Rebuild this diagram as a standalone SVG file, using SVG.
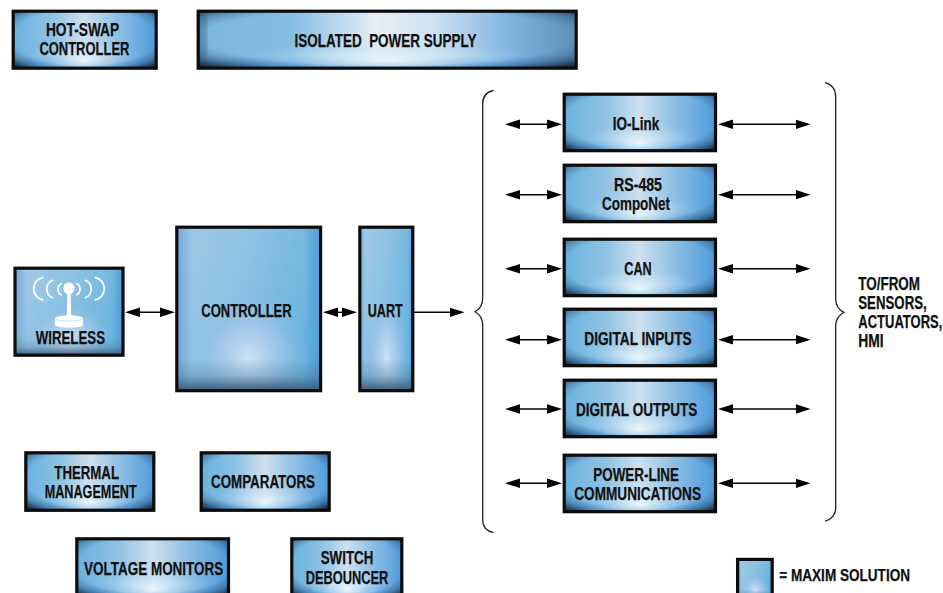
<svg xmlns="http://www.w3.org/2000/svg" xmlns:xlink="http://www.w3.org/1999/xlink" width="943" height="593" viewBox="0 0 943 593">
<style>
text{font-family:"Liberation Sans Narrow","Liberation Sans",Arial,sans-serif;font-weight:700;font-size:17.5px;fill:#111;stroke:#111;stroke-width:.25px;}
.box{fill:none;stroke:#0c0c0c;stroke-width:3.2;}
.wire{fill:none;stroke:#000;stroke-width:1.4;}
.dbl{marker-start:url(#ah);marker-end:url(#ah);}
.one{marker-end:url(#ah);}
.brace{fill:none;stroke:#222;stroke-width:1.3;}
.ico{fill:none;stroke:#fff;stroke-width:1.8;}
</style>
<defs>
<marker id="ah" markerUnits="userSpaceOnUse" markerWidth="18" markerHeight="14" refX="12" refY="7" orient="auto-start-reverse"><path d="M0,2.2 L15,7 L0,11.8 Z" fill="#000"/></marker>
<linearGradient id="base"><stop offset="0" stop-color="#68b2de"/><stop offset=".28" stop-color="#8fc2e3"/><stop offset=".5" stop-color="#cfe0ef"/><stop offset=".72" stop-color="#8fc0e4"/><stop offset="1" stop-color="#4f9adb"/></linearGradient>
<radialGradient id="glow" cx=".5" cy=".85" r=".38"><stop offset="0" stop-color="#eef8fc" stop-opacity=".95"/><stop offset="1" stop-color="#a8d4ec" stop-opacity="0"/></radialGradient>
<radialGradient id="vig" cx=".5" cy=".45" r=".72"><stop offset="0" stop-color="#2a4f78" stop-opacity="0"/><stop offset=".68" stop-color="#2a5f90" stop-opacity="0"/><stop offset=".82" stop-color="#2a4a6a" stop-opacity=".4"/><stop offset=".95" stop-color="#1c2c3c" stop-opacity=".95"/><stop offset="1" stop-color="#141e28" stop-opacity="1"/></radialGradient>
<linearGradient id="bottomBlue" x1="0" y1="0" x2="0" y2="1"><stop offset=".78" stop-color="#4c98dc" stop-opacity="0"/><stop offset=".95" stop-color="#4c98dc" stop-opacity=".85"/></linearGradient>
<linearGradient id="tall" x1="0" y1="0" x2="1" y2=".35"><stop offset="0" stop-color="#a4cbe6"/><stop offset=".5" stop-color="#8dc2e3"/><stop offset="1" stop-color="#6bb4de"/></linearGradient>
<radialGradient id="tallGlow" cx=".5" cy=".8" r=".42"><stop offset="0" stop-color="#cde2f6" stop-opacity="1"/><stop offset=".55" stop-color="#a2c6ea" stop-opacity=".75"/><stop offset="1" stop-color="#7fb8e4" stop-opacity="0"/></radialGradient>
<linearGradient id="tallEdge" x1="0" y1="0" x2="0" y2="1"><stop offset=".8" stop-color="#3a5f80" stop-opacity="0"/><stop offset=".9" stop-color="#3a5f80" stop-opacity=".25"/><stop offset="1" stop-color="#34506c" stop-opacity=".95"/></linearGradient>
<linearGradient id="tallSide"><stop offset="0" stop-color="#4a86c8" stop-opacity=".55"/><stop offset=".12" stop-color="#4a86c8" stop-opacity="0"/><stop offset=".88" stop-color="#3f8ed8" stop-opacity="0"/><stop offset="1" stop-color="#3f8ed8" stop-opacity=".7"/></linearGradient>
<linearGradient id="supplyBase"><stop offset="0" stop-color="#7ab6dc"/><stop offset=".25" stop-color="#86bde2"/><stop offset=".47" stop-color="#e6eef7"/><stop offset=".62" stop-color="#cfe2f2"/><stop offset=".82" stop-color="#82b4e0"/><stop offset="1" stop-color="#5f8fb8"/></linearGradient>
<linearGradient id="supplyLeft"><stop offset="0" stop-color="#4f7fa5" stop-opacity=".9"/><stop offset=".9" stop-color="#5f92b8" stop-opacity=".7"/><stop offset="1" stop-color="#5f92b8" stop-opacity="0"/></linearGradient>
<symbol id="panel" viewBox="0 0 100 100" preserveAspectRatio="none">
<rect width="100" height="100" fill="url(#base)"/><rect width="100" height="100" fill="url(#bottomBlue)"/><rect width="100" height="100" fill="url(#glow)"/><rect width="100" height="100" fill="url(#vig)"/>
</symbol>
<symbol id="tallPanel" viewBox="0 0 100 100" preserveAspectRatio="none">
<rect width="100" height="100" fill="url(#tall)"/><rect width="100" height="100" fill="url(#tallGlow)"/><rect width="100" height="100" fill="url(#tallSide)"/><rect width="100" height="100" fill="url(#tallEdge)"/>
</symbol>
</defs>
<rect width="943" height="593" fill="#fff"/>

<g id="connectors">
<line class="wire dbl" x1="128" y1="312.3" x2="172" y2="312.3"/>
<line class="wire dbl" x1="326" y1="312.3" x2="354" y2="312.3"/>
<line class="wire one" x1="414" y1="312.3" x2="461.5" y2="312.3"/>
<line class="wire dbl" x1="508" y1="124.3" x2="559" y2="124.3"/>
<line class="wire dbl" x1="721" y1="124.3" x2="807.5" y2="124.3"/>
<line class="wire dbl" x1="508" y1="194.7" x2="559" y2="194.7"/>
<line class="wire dbl" x1="721" y1="194.7" x2="807.5" y2="194.7"/>
<line class="wire dbl" x1="508" y1="268.7" x2="559" y2="268.7"/>
<line class="wire dbl" x1="721" y1="268.7" x2="807.5" y2="268.7"/>
<line class="wire dbl" x1="508" y1="339.7" x2="559" y2="339.7"/>
<line class="wire dbl" x1="721" y1="339.7" x2="807.5" y2="339.7"/>
<line class="wire dbl" x1="508" y1="409" x2="559" y2="409"/>
<line class="wire dbl" x1="721" y1="409" x2="807.5" y2="409"/>
<line class="wire dbl" x1="508" y1="483.3" x2="559" y2="483.3"/>
<line class="wire dbl" x1="721" y1="483.3" x2="807.5" y2="483.3"/>
<path class="brace" d="M493.5,90.5 C486,92 482.7,96 482.7,104 L482.7,298 C482.7,305 480,309 475,311.7 C480,314.5 482.7,318 482.7,325 L482.7,520 C482.7,527 486,531 493.5,532.7"/>
<path class="brace" d="M825,82.7 C832,84.5 835.7,89 835.7,97 L835.7,299 C835.7,306 839,310 844,312.3 C839,315 835.7,319 835.7,326 L835.7,508 C835.7,515 832,519 825,521"/>
</g>

<g id="hot-swap"><use href="#panel" x="12" y="11" width="145" height="58"/><rect class="box" x="13.2" y="11.2" width="143" height="57"/>
<text x="45.9" y="36" textLength="73.3" lengthAdjust="spacingAndGlyphs">HOT-SWAP</text>
<text x="39.4" y="55" textLength="90" lengthAdjust="spacingAndGlyphs">CONTROLLER</text></g>

<g id="isolated-power">
<rect x="197" y="11" width="380" height="58" fill="url(#supplyBase)"/>
<rect x="199" y="11" width="9" height="58" fill="url(#supplyLeft)"/>
<rect x="197" y="11" width="380" height="58" fill="url(#bottomBlue)"/>
<rect x="197" y="11" width="380" height="58" fill="url(#glow)"/>
<rect x="197" y="11" width="380" height="58" fill="url(#vig)"/>
<rect class="box" x="198.2" y="11.2" width="378" height="57"/>
<text x="294.5" y="47" textLength="182" lengthAdjust="spacingAndGlyphs" xml:space="preserve">ISOLATED  POWER SUPPLY</text></g>

<g id="io-link"><use href="#panel" x="563" y="93" width="153" height="59"/><rect class="box" x="564.2" y="94.2" width="151.3" height="56.5"/>
<text x="612.7" y="130" textLength="46.6" lengthAdjust="spacingAndGlyphs">IO-Link</text></g>

<g id="rs-485"><use href="#panel" x="563" y="164" width="153" height="59"/><rect class="box" x="564.2" y="165.2" width="151.3" height="56.5"/>
<text x="614" y="191" textLength="48" lengthAdjust="spacingAndGlyphs">RS-485</text>
<text x="602" y="210.3" textLength="68" lengthAdjust="spacingAndGlyphs">CompoNet</text></g>

<g id="can"><use href="#panel" x="563" y="238" width="153" height="59"/><rect class="box" x="564.2" y="239.2" width="151.3" height="56.5"/>
<text x="624.3" y="274.5" textLength="27.4" lengthAdjust="spacingAndGlyphs">CAN</text></g>

<g id="digital-inputs"><use href="#panel" x="563" y="308" width="153" height="59"/><rect class="box" x="564.2" y="309.2" width="151.3" height="56.5"/>
<text x="584.3" y="345" textLength="107.4" lengthAdjust="spacingAndGlyphs">DIGITAL INPUTS</text></g>

<g id="digital-outputs"><use href="#panel" x="563" y="379" width="153" height="59"/><rect class="box" x="564.2" y="380.2" width="151.3" height="56.5"/>
<text x="576" y="415.7" textLength="121.3" lengthAdjust="spacingAndGlyphs">DIGITAL OUTPUTS</text></g>

<g id="power-line"><use href="#panel" x="563" y="454" width="153" height="59"/><rect class="box" x="564.2" y="455.2" width="151.3" height="56.5"/>
<text x="593.3" y="481" textLength="85.7" lengthAdjust="spacingAndGlyphs">POWER-LINE</text>
<text x="574.3" y="500" textLength="126.7" lengthAdjust="spacingAndGlyphs">COMMUNICATIONS</text></g>

<g id="wireless"><use href="#tallPanel" x="14" y="267" width="110" height="89"/><rect class="box" x="15" y="268.2" width="108" height="87"/>
<g id="wireless-icon">
<path class="ico" d="M61.7,283.3 A6.5,6.5 0 0 0 61.7,295 M53.3,280 A9.5,9.5 0 0 0 53.3,298 M43.3,277.3 A11.5,11.5 0 0 0 43.3,300"/>
<path class="ico" d="M76.3,283.3 A6.5,6.5 0 0 1 76.3,295 M84.7,280 A9.5,9.5 0 0 1 84.7,298 M94.7,277.3 A11.5,11.5 0 0 1 94.7,300"/>
<path d="M67.4,290 L70.6,290 L71.2,316 L66.8,316 Z" fill="#fff"/>
<circle cx="69" cy="288.3" r="5.8" fill="#fff"/>
<path d="M55,318.5 A14,3.2 0 0 1 83,318.5 L83,325 A14,2.8 0 0 1 55,325 Z" fill="#fff"/>
<path d="M55.5,319 A14,2.6 0 0 0 82.5,319" fill="none" stroke="#c8dbe8" stroke-width=".8"/>
</g>
<text x="35.7" y="344" textLength="69.3" lengthAdjust="spacingAndGlyphs">WIRELESS</text></g>

<g id="controller"><use href="#tallPanel" x="176" y="226" width="145" height="166"/><rect class="box" x="176.8" y="227.2" width="143.8" height="163.5"/>
<text x="201.3" y="317" textLength="90.4" lengthAdjust="spacingAndGlyphs">CONTROLLER</text></g>

<g id="uart"><use href="#tallPanel" x="359" y="226" width="55" height="166"/><rect class="box" x="359.8" y="227.2" width="53" height="163.5"/>
<text x="367.7" y="317" textLength="35" lengthAdjust="spacingAndGlyphs">UART</text></g>

<g id="thermal"><use href="#panel" x="25" y="452" width="130" height="59"/><rect class="box" x="25.8" y="452.8" width="128" height="57.5"/>
<text x="54.3" y="479" textLength="64.7" lengthAdjust="spacingAndGlyphs">THERMAL</text>
<text x="44.7" y="498.3" textLength="92" lengthAdjust="spacingAndGlyphs">MANAGEMENT</text></g>

<g id="comparators"><use href="#panel" x="200" y="452" width="130" height="59"/><rect class="box" x="201.2" y="452.8" width="128" height="57.5"/>
<text x="211" y="488" textLength="104" lengthAdjust="spacingAndGlyphs">COMPARATORS</text></g>

<g id="voltage-monitors"><use href="#panel" x="76" y="538" width="153" height="60"/><rect class="box" x="76.8" y="538.8" width="151.7" height="62"/>
<text x="84" y="575" textLength="139.3" lengthAdjust="spacingAndGlyphs">VOLTAGE MONITORS</text></g>

<g id="switch-debouncer"><use href="#panel" x="291" y="538" width="112" height="60"/><rect class="box" x="291.8" y="538.8" width="110" height="62"/>
<text x="320.7" y="564.3" textLength="52.6" lengthAdjust="spacingAndGlyphs">SWITCH</text>
<text x="305.7" y="584" textLength="82.6" lengthAdjust="spacingAndGlyphs">DEBOUNCER</text></g>

<g id="legend"><use href="#tallPanel" x="737" y="558" width="36" height="40"/><rect class="box" x="737.6" y="559.4" width="34.6" height="40"/>
<text x="779.3" y="581" textLength="130.7" lengthAdjust="spacingAndGlyphs" style="font-size:16px">= MAXIM SOLUTION</text></g>

<g id="side-label">
<text x="858.3" y="290" textLength="61.7" lengthAdjust="spacingAndGlyphs">TO/FROM</text>
<text x="858.3" y="309.3" textLength="68.4" lengthAdjust="spacingAndGlyphs">SENSORS,</text>
<text x="858.3" y="328.3" textLength="84" lengthAdjust="spacingAndGlyphs">ACTUATORS,</text>
<text x="858.3" y="347.3" textLength="25.4" lengthAdjust="spacingAndGlyphs">HMI</text>
</g>
</svg>
